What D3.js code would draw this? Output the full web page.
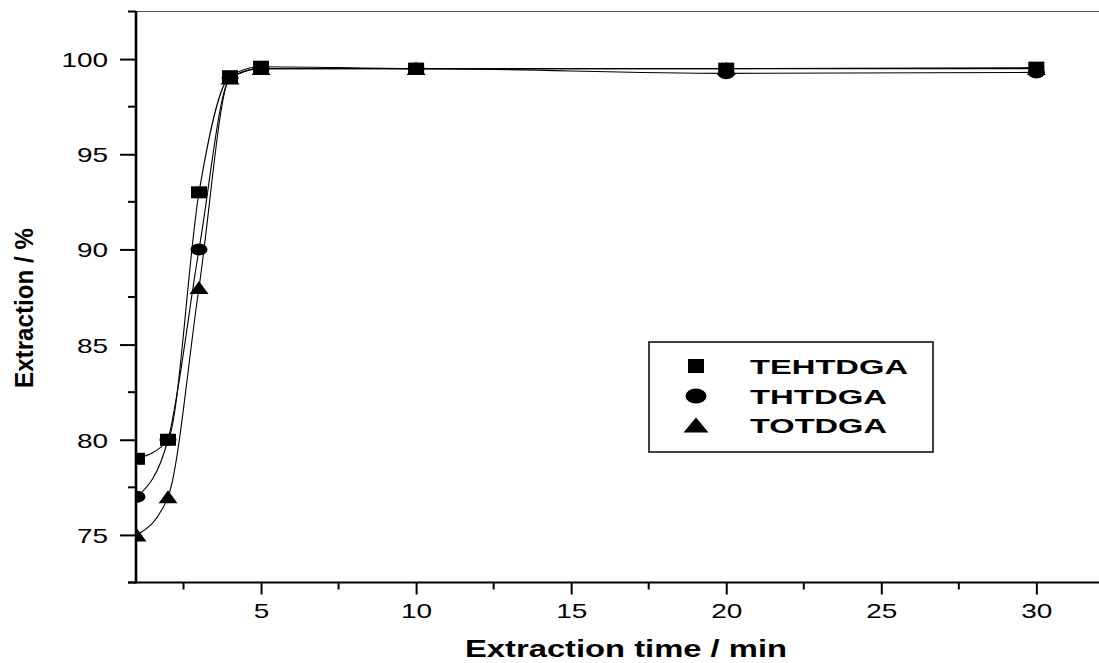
<!DOCTYPE html>
<html>
<head>
<meta charset="utf-8">
<script src="https://cdn.jsdelivr.net/npm/d3@7/dist/d3.min.js"></script>
<style>
  html, body { margin: 0; padding: 0; background: #fff; }
  svg { display: block; font-family: "Liberation Sans", Arial, Helvetica, sans-serif; }
</style>
</head>
<body>
<svg id="chart" width="1099" height="663"></svg>
<script>
// Extraction kinetics of three diglycolamides
const times = [1, 2, 3, 4, 5, 10, 20, 30];
const tehtdga = [79, 80, 93, 99.1, 99.6, 99.5, 99.5, 99.55];
const thtdga  = [77, 80, 90, 99.0, 99.5, 99.5, 99.25, 99.3];
const totdga  = [75, 77, 88, 99.0, 99.5, 99.5, 99.5, 99.5];
const seriesNames = ["TEHTDGA", "THTDGA", "TOTDGA"];
const xTicks = [5, 10, 15, 20, 25, 30];
const yTicks = [75, 80, 85, 90, 95, 100];

const svg = d3.select("#chart");
const plotLeft = 136, plotRight = 1099, plotTop = 11.5, plotBottom = 582.5;

const x = d3.scaleLinear().domain([0.968, 32.02]).range([plotLeft, plotRight]);
const y = d3.scaleLinear().domain([72.5, 102.5]).range([plotBottom, plotTop]);

// stretch a text element horizontally to a given length
function stretch(sel, len) {
  sel.attr("textLength", len).attr("lengthAdjust", "spacingAndGlyphs");
}

// top frame line
svg.append("line")
  .attr("x1", plotLeft).attr("x2", plotRight).attr("y1", plotTop).attr("y2", plotTop)
  .attr("stroke", "#555").attr("stroke-width", 1.2);

// y axis
const yAxis = svg.append("g").attr("transform", `translate(${plotLeft},0)`)
  .call(d3.axisLeft(y).tickValues(yTicks).tickSize(16).tickPadding(4).tickSizeOuter(0));
yAxis.select(".domain").remove();
yAxis.selectAll(".tick line").attr("stroke", "#000").attr("stroke-width", 2);
yAxis.selectAll(".tick text")
  .attr("font-size", 21).attr("fill", "#000").attr("dx", -8).attr("dy", "0.36em")
  .each(function () { const t = d3.select(this); stretch(t, this.getComputedTextLength() * 1.33); });
const yMinor = d3.range(72.5, 103, 5);
svg.append("g").selectAll("line").data(yMinor).join("line")
  .attr("x1", plotLeft - 8).attr("x2", plotLeft).attr("y1", d => y(d)).attr("y2", d => y(d))
  .attr("stroke", "#000").attr("stroke-width", 2);
svg.append("line").attr("x1", plotLeft).attr("x2", plotLeft).attr("y1", plotTop - 0.5).attr("y2", plotBottom + 1)
  .attr("stroke", "#000").attr("stroke-width", 2.6);

// x axis
const xAxis = svg.append("g").attr("transform", `translate(0,${plotBottom})`)
  .call(d3.axisBottom(x).tickValues(xTicks).tickSize(12).tickPadding(8).tickSizeOuter(0));
xAxis.select(".domain").remove();
xAxis.selectAll(".tick line").attr("stroke", "#000").attr("stroke-width", 2);
xAxis.selectAll(".tick text")
  .attr("font-size", 21).attr("fill", "#000").attr("dy", "0.74em")
  .each(function () { const t = d3.select(this); stretch(t, this.getComputedTextLength() * 1.33); });
const xMinor = d3.range(2.5, 32, 5);
svg.append("g").selectAll("line").data(xMinor).join("line")
  .attr("x1", d => x(d)).attr("x2", d => x(d)).attr("y1", plotBottom).attr("y2", plotBottom + 7)
  .attr("stroke", "#000").attr("stroke-width", 2);
svg.append("line").attr("x1", plotLeft - 8).attr("x2", plotRight).attr("y1", plotBottom).attr("y2", plotBottom)
  .attr("stroke", "#000").attr("stroke-width", 2);

// axis titles
svg.append("text").attr("x", 626).attr("y", 657).attr("text-anchor", "middle")
  .attr("font-size", 24).attr("font-weight", "bold").text("Extraction time / min")
  .call(stretch, 322);
svg.append("text").attr("transform", "translate(33,308) rotate(-90)").attr("text-anchor", "middle")
  .attr("font-size", 25).attr("font-weight", "bold").text("Extraction / %")
  .call(stretch, 160);

// plot area clip
svg.append("defs").append("clipPath").attr("id", "plot")
  .append("rect").attr("x", plotLeft + 1).attr("y", 0).attr("width", plotRight - plotLeft).attr("height", plotBottom);

const plot = svg.append("g").attr("clip-path", "url(#plot)");

const series = [
  { name: seriesNames[0], values: tehtdga, shape: "square" },
  { name: seriesNames[1], values: thtdga, shape: "circle" },
  { name: seriesNames[2], values: totdga, shape: "triangle" }
];

const line = d3.line().x(d => x(d[0])).y(d => y(d[1])).curve(d3.curveMonotoneX);
series.forEach(s => {
  plot.append("path").datum(times.map((t, i) => [t, s.values[i]]))
    .attr("d", line).attr("fill", "none").attr("stroke", "#000").attr("stroke-width", 1.1);
});

// marker shapes: w x h box around centre
function markerPath(shape, w, h) {
  if (shape === "square") return `M${-w/2},${-h/2}h${w}v${h}h${-w}Z`;
  if (shape === "circle") {
    const rx = w / 2, ry = h / 2;
    return `M${-rx},0a${rx},${ry} 0 1,0 ${w},0a${rx},${ry} 0 1,0 ${-w},0Z`;
  }
  return `M0,${-h/2}L${w/2},${h/2}L${-w/2},${h/2}Z`;
}
const markerSize = { square: [16, 12], circle: [17, 12], triangle: [19, 13] };

[series[2], series[1], series[0]].forEach(s => {
  const [w, h] = markerSize[s.shape];
  plot.append("g").selectAll("path").data(times.map((t, i) => [t, s.values[i]])).join("path")
    .attr("transform", d => `translate(${x(d[0])},${y(d[1])})`)
    .attr("d", markerPath(s.shape, w, h)).attr("fill", "#000");
});

// legend
const legend = svg.append("g");
legend.append("rect").attr("x", 649).attr("y", 342).attr("width", 284).attr("height", 110)
  .attr("fill", "#fff").attr("stroke", "#000").attr("stroke-width", 1.5);
const legendSize = { square: [16, 14], circle: [21, 15], triangle: [25, 15] };
const legendRows = [366, 396, 425];
const legendLens = [158, 137, 137];
series.forEach((s, i) => {
  const [w, h] = legendSize[s.shape];
  legend.append("path").attr("transform", `translate(696,${legendRows[i]})`)
    .attr("d", markerPath(s.shape, w, h)).attr("fill", "#000");
  legend.append("text").attr("x", 750).attr("y", legendRows[i] + 8)
    .attr("font-size", 21).attr("font-weight", "bold").text(s.name)
    .call(stretch, legendLens[i]);
});
</script>
</body>
</html>
